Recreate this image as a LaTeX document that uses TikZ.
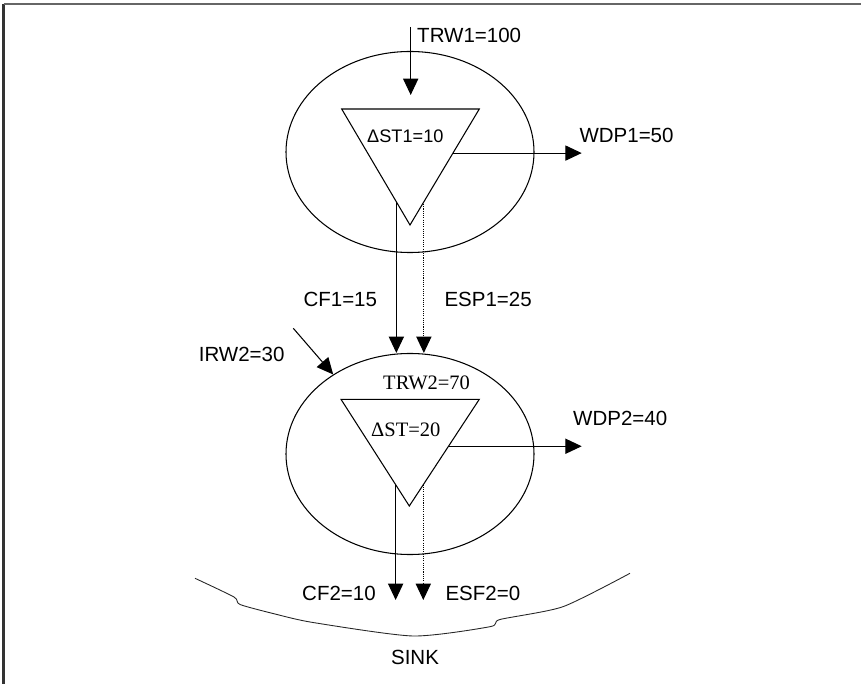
\documentclass[tikz,border=0pt]{standalone}
\usepackage{fontspec}
\setmainfont{Liberation Sans}
\newfontfamily\timesfont{Liberation Serif}
\usetikzlibrary{arrows.meta,shapes.geometric,calc}

\begin{document}
\begin{tikzpicture}[x=0.03cm, y=-0.03cm, line width=0.9pt,
    every node/.style={font=\fontsize{17.5}{21}\selectfont, inner sep=0pt},
    flow/.style={-{Triangle[length=14pt,width=13pt]}},
    spill/.style={flow, densely dotted},
    pool/.style={draw, ellipse, minimum width=7.44cm, minimum height=6.03cm}]
    \useasboundingbox (0,0) rectangle (861,684);
    \draw[line width=2.2pt, black!80] (3.5,684) -- (3.5,4);
    \draw[line width=2pt, black!60] (3.5,4) -- (861,4);
    % reservoirs
    \foreach \index/\level in {1/152,2/454}
        \node[pool] (pool-\index) at (410,\level) {};
    \coordinate (tri1-l) at (341.7,109);
    \coordinate (tri1-r) at (479.3,109);
    \coordinate (tri1-a) at (410,225);
    \coordinate (tri2-l) at (341,399.3);
    \coordinate (tri2-r) at (479.3,399.3);
    \coordinate (tri2-a) at (409.3,506);
    \foreach \index in {1,2}
        \draw (tri\index-l) -- (tri\index-r) -- (tri\index-a) -- cycle;
    % flows
    \coordinate (trw1-top) at (410.7,27);
    \coordinate (trw1-tip) at (410.7,95);
    \coordinate (outflow) at (581.7,0);
    \coordinate (sink-level) at (0,600);
    \coordinate (irw2-top) at (293.3,328.3);
    \coordinate (wdp1-start) at ($(tri1-r)!0.38!(tri1-a)$);
    \coordinate (wdp2-start) at ($(tri2-r)!0.44!(tri2-a)$);
    \coordinate (cf1-start) at ($(tri1-l)!0.8!(tri1-a)$);
    \coordinate (esp1-start) at ($(tri1-r)!0.8!(tri1-a)$);
    \coordinate (cf2-start) at ($(tri2-l)!0.8!(tri2-a)$);
    \coordinate (esf2-start) at ($(tri2-r)!0.8!(tri2-a)$);
    \draw[flow] (trw1-top) -- (trw1-tip);
    \draw[flow] (wdp1-start) -- (wdp1-start -| outflow);
    \draw[flow] (wdp2-start) -- (wdp2-start -| outflow);
    \draw[flow] (cf1-start) -- (cf1-start |- pool-2.north);
    \draw[spill] (esp1-start) -- (esp1-start |- pool-2.north);
    \draw[flow] (irw2-top) -- (pool-2.134.5);
    \draw[flow] (cf2-start) -- (cf2-start |- sink-level);
    \draw[spill] (esf2-start) -- (esf2-start |- sink-level);
    % sink
    \draw[line width=0.75pt, black!85] plot[smooth, tension=0.4] coordinates {(195,578.3) (234,597) (240,604.5) (275,614) (313,622.5) (413,636) (490,626.7) (500,619.5) (563,606.7) (630,573.3)};
    % labels
    \node[anchor=base west] (trw1-label) at (416.7,42.7) {TRW1=100};
    \node[anchor=base west, font=\fontsize{15.5}{19}\selectfont] (st1-label) at (366.7,143) {ΔST1=10};
    \node[anchor=base west] (wdp1-label) at (579,143) {WDP1=50};
    \node[anchor=base west] (cf1-label) at (303,307) {CF1=15};
    \node[anchor=base west] (esp1-label) at (444,307) {ESP1=25};
    \node[anchor=base east] (irw2-label) at (285,362) {IRW2=30};
    \node[anchor=base west, font=\timesfont\fontsize{17.5}{21}\selectfont] (trw2-label) at (382.7,390) {TRW2=70};
    \node[anchor=base west, font=\timesfont\fontsize{17.5}{21}\selectfont] (st2-label) at (370.7,437) {ΔST=20};
    \node[anchor=base west] (wdp2-label) at (572.7,426) {WDP2=40};
    \node[anchor=base west] (cf2-label) at (301.7,600) {CF2=10};
    \node[anchor=base west] (esf2-label) at (445,600) {ESF2=0};
    \node[anchor=base] (sink-label) at (415,664) {SINK};
\end{tikzpicture}
\end{document}
